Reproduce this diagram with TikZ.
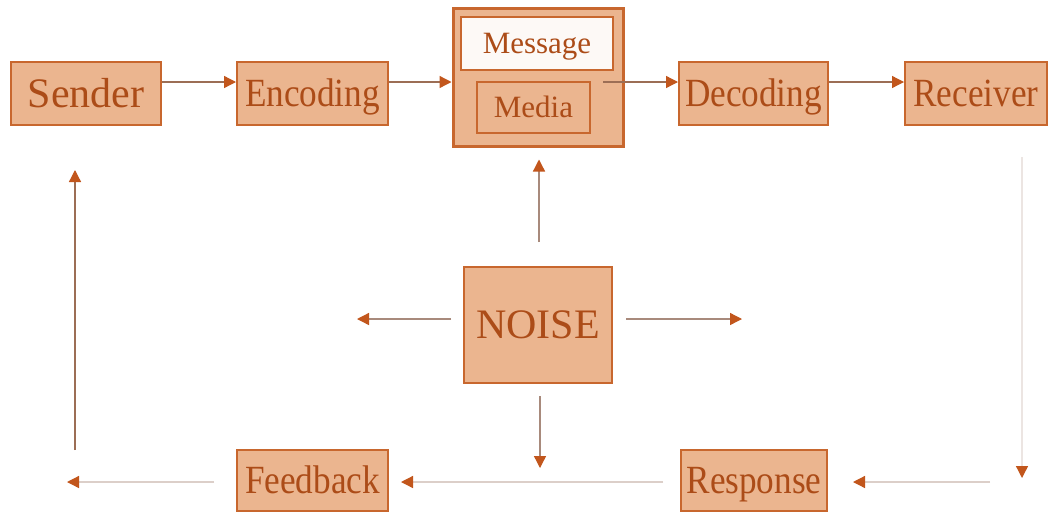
\documentclass[tikz,border=0pt]{standalone}
\usepackage{fontspec}
\setmainfont{Liberation Serif}
\newfontfamily\condserif[FakeStretch=0.88]{Liberation Serif}
\usetikzlibrary{arrows.meta,calc}
\definecolor{boxfill}{HTML}{EBB58F}
\definecolor{boxdraw}{HTML}{C8672E}
\definecolor{txt}{HTML}{AC4C18}
\definecolor{headc}{HTML}{C2561C}
\definecolor{linedark}{HTML}{9C6E55}
\definecolor{linemid}{HTML}{A88A7C}
\definecolor{linelight}{HTML}{DCCFC9}
\definecolor{linefaint}{HTML}{ECE5E2}
\tikzset{
  blk/.style={draw=boxdraw, line width=2pt, fill=boxfill, text=txt, inner sep=0pt, anchor=center, text depth=0pt},
  big/.style={font=\fontsize{42}{42}\selectfont, text height=27.8pt},
  cond/.style={font=\condserif\fontsize{40}{40}\selectfont, text height=26.5pt},
  small/.style={font=\fontsize{31}{31}\selectfont, text height=20.5pt},
  arr/.style={line width=1.3pt, -{Triangle[length=12pt,width=12pt,color=headc]}},
}
\begin{document}
\begin{tikzpicture}[x=1pt,y=-1pt]
\useasboundingbox (0,0) rectangle (1051,512);
\fill[white] (0,0) rectangle (1051,512);
% boxes
\node[blk,big,minimum width=150pt,minimum height=63pt] (sender) at (86,93.5) {Sender};
\node[blk,cond,minimum width=151pt,minimum height=63pt] (enc) at (312.5,93.5) {Encoding};
\node[blk,line width=3pt,minimum width=170pt,minimum height=138pt] (outer) at (538,77) {};
\node[blk,small,fill=white!92!boxfill,minimum width=152pt,minimum height=53pt] (message) at (537,43.5) {Message};
\node[blk,small,minimum width=113pt,minimum height=51pt] (media) at (533.5,107.5) {Media};
\node[blk,cond,minimum width=149pt,minimum height=63pt] (dec) at (753.5,93.5) {Decoding};
\node[blk,cond,minimum width=142pt,minimum height=63pt] (rec) at (976,93.5) {Receiver};
\node[blk,big,minimum width=148pt,minimum height=116pt] (noise) at (538,325) {NOISE};
\node[blk,cond,minimum width=151pt,minimum height=61pt] (feedback) at (312.5,480) {Feedback};
\node[blk,cond,minimum width=146pt,minimum height=61pt] (response) at (754,480) {Response};
% free ends
\coordinate (mstart) at (603,82);
\coordinate (rtop) at (1022,157);
\coordinate (rbot) at (1022,478);
\coordinate (bstart) at (990,482);
\coordinate (fend) at (67,482);
\coordinate (sbot) at (75,450);
\coordinate (nleft) at (357,319);
\coordinate (nright) at (742,319);
\coordinate (ndown) at (540,468);
% top row
\draw[arr,linedark] ([yshift=11.5pt]sender.east) -- ([yshift=11.5pt]enc.west);
\draw[arr,linedark] ([yshift=11.5pt]enc.east) -- ([yshift=-5pt]outer.west);
\draw[arr,linedark] (mstart) -- ([yshift=11.5pt]dec.west);
\draw[arr,linedark] ([yshift=11.5pt]dec.east) -- ([yshift=11.5pt]rec.west);
% right side and bottom
\draw[arr,linefaint] (rtop) -- (rbot);
\draw[arr,linelight,shorten >=25pt] (bstart) -- (response.east |- bstart);
\draw[arr,linelight,shorten <=17pt,shorten >=12pt] (response.west |- bstart) -- (feedback.east |- bstart);
\draw[arr,linelight,shorten <=22pt] (feedback.west |- fend) -- (fend);
\draw[arr,linedark,shorten >=44pt] (sbot) -- (sender.south -| sbot);
% noise
\draw[arr,linemid,shorten <=24pt,shorten >=12pt] (noise.north -| 539,0) -- (outer.south -| 539,0);
\draw[arr,linemid,shorten <=12pt] (noise.south -| ndown) -- (ndown);
\draw[arr,linemid,shorten <=12pt] (noise.west |- nleft) -- (nleft);
\draw[arr,linemid,shorten <=13pt] (noise.east |- nright) -- (nright);
\end{tikzpicture}
\end{document}
